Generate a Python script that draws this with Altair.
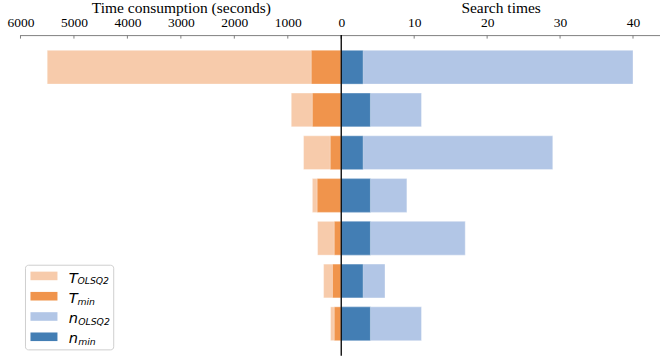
import altair as alt
import pandas as pd

# Per-benchmark results (top to bottom)
rows = ["b1", "b2", "b3", "b4", "b5", "b6", "b7"]
t_olsq2 = [5500, 935, 705, 540, 443, 330, 200]   # seconds
t_min = [560, 540, 205, 450, 130, 163, 130]      # seconds
n_olsq2 = [40, 11, 29, 9, 17, 6, 11]             # search count
n_min = [3, 4, 3, 4, 4, 3, 4]                    # search count

left_ticks = [0, 1000, 2000, 3000, 4000, 5000, 6000]
right_ticks = [10, 20, 30, 40]
right_tick_marks = [0, 10, 20, 30, 40]

legend_main = ["T", "T", "n", "n"]
legend_sub = ["OLSQ2", "min", "OLSQ2", "min"]

C_T_OLSQ2 = "#f7cbab"
C_T_MIN = "#f0944c"
C_N_OLSQ2 = "#b2c6e6"
C_N_MIN = "#437eb4"
legend_colors = [C_T_OLSQ2, C_T_MIN, C_N_OLSQ2, C_N_MIN]

LEFT_W, RIGHT_W, PLOT_H = 321, 319, 321
SERIF = "Liberation Serif"
AXIS_GRAY = "#808080"

df = pd.DataFrame({"row": rows, "t_olsq2": t_olsq2, "t_min": t_min,
                   "n_olsq2": n_olsq2, "n_min": n_min})

y_enc = alt.Y("row:N", sort=rows, axis=None,
              scale=alt.Scale(paddingInner=0.21, paddingOuter=0.356))

left_scale = alt.Scale(domain=[0, 6000], reverse=True, nice=False)
right_scale = alt.Scale(domain=[0, 43.7], nice=False)

AXIS_STYLE = dict(
    grid=False, ticks=False, domainColor=AXIS_GRAY, domainWidth=1,
    labelFont=SERIF, labelFontSize=13.5, labelFontWeight="normal",
    labelColor="black", labelPadding=5.5, labelFlush=False, labelOverlap=False,
    titleFont=SERIF, titleFontSize=15.5, titleFontWeight="normal",
    titleColor="black", titlePadding=0,
)


def top_axis(title, values):
    return alt.Axis(orient="top", title=title, values=values, format="d",
                    **AXIS_STYLE)


left_axis = top_axis("Time consumption (seconds)", left_ticks)
right_axis = top_axis("Search times", right_ticks)


def bar(field, color, scale, axis):
    return alt.Chart(df).mark_bar(color=color, stroke="white", strokeOpacity=0.35,
                                  strokeWidth=1).encode(
        x=alt.X(f"{field}:Q", scale=scale, axis=axis), y=y_enc)


def tick_marks(values, scale, axis):
    tdf = pd.DataFrame({"v": values})
    return alt.Chart(tdf).mark_rule(color=AXIS_GRAY, strokeWidth=1).encode(
        x=alt.X("v:Q", scale=scale, axis=axis),
        y=alt.value(0), y2=alt.value(3.5))


# Legend drawn inside the left panel, with subscripted math-style labels
one = pd.DataFrame({"k": [0]})
lx0, lx1, ly0, ly1 = 5, 93.3, 230.3, 315
step = 20.3
legend_layers = [
    alt.Chart(one).mark_rect(
        fill="white", fillOpacity=0.85, stroke="#cfcfcf", strokeWidth=1,
        cornerRadius=3).encode(x=alt.value(lx0), x2=alt.value(lx1),
                               y=alt.value(ly0), y2=alt.value(ly1))
]
for i, (main, sub, color) in enumerate(zip(legend_main, legend_sub, legend_colors)):
    cy = 241 + step * i
    sub_x = 57 if main == "T" else 57.8
    legend_layers += [
        alt.Chart(one).mark_rect(color=color).encode(
            x=alt.value(10), x2=alt.value(37),
            y=alt.value(cy - 4.3), y2=alt.value(cy + 4.3)),
        alt.Chart(one).mark_text(
            align="left", baseline="alphabetic", font="DejaVu Sans",
            fontStyle="italic", fontSize=14.6, color="black", text=main).encode(
            x=alt.value(48.3), y=alt.value(cy + 6.7)),
        alt.Chart(one).mark_text(
            align="left", baseline="alphabetic", font="DejaVu Sans",
            fontStyle="italic", fontSize=9.3, color="black", text=sub).encode(
            x=alt.value(sub_x), y=alt.value(cy + 8.3)),
    ]

left = alt.layer(
    bar("t_olsq2", C_T_OLSQ2, left_scale, left_axis),
    bar("t_min", C_T_MIN, left_scale, left_axis),
    tick_marks(left_ticks, left_scale, left_axis),
    *legend_layers,
).properties(width=LEFT_W, height=PLOT_H)

zero_line = alt.Chart(pd.DataFrame({"z": [0]})).mark_rule(
    color="black", strokeWidth=1.3).encode(
    x=alt.X("z:Q", scale=right_scale, axis=right_axis),
    y=alt.value(0), y2=alt.value(PLOT_H))

right = alt.layer(
    bar("n_olsq2", C_N_OLSQ2, right_scale, right_axis),
    bar("n_min", C_N_MIN, right_scale, right_axis),
    tick_marks(right_tick_marks, right_scale, right_axis),
    zero_line,
).properties(width=RIGHT_W, height=PLOT_H)

# "flush" bounds make the two panels meet exactly at the shared zero line
chart = alt.hconcat(left, right, spacing=0, bounds="flush").resolve_scale(
    x="independent"
).properties(
    padding={"left": 6.5, "top": 0, "right": 0, "bottom": 0},
    background="white",
).configure_view(
    stroke=None
).configure_axis(**AXIS_STYLE)

chart.save("out.html", embed_options={"renderer": "svg", "actions": False})
